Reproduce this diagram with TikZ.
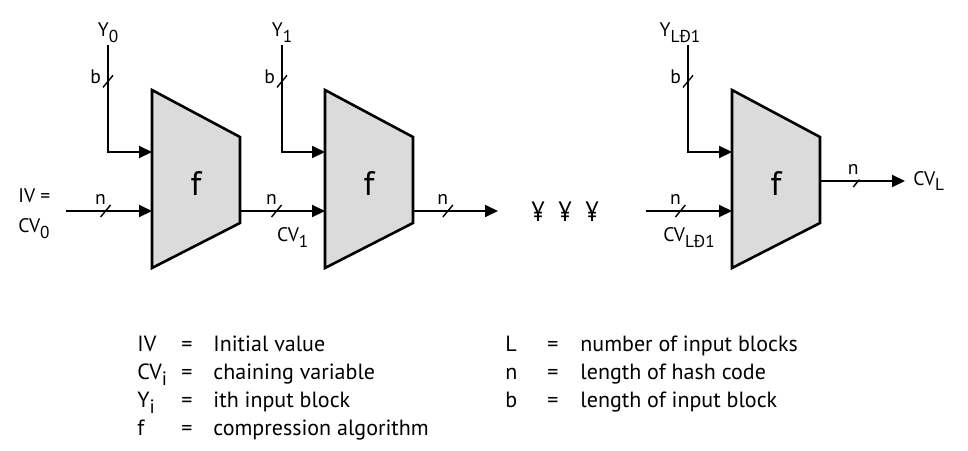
\documentclass[tikz,border=0pt]{standalone}
\usepackage{fontspec}
\usepackage{graphicx}
\setmainfont{PT Sans}
\usetikzlibrary{arrows.meta}
\newcommand{\lsub}[1]{\raisebox{-0.3em}{\scalebox{0.88}{#1}}}
\tikzset{
  fblock/.style={draw, line width=1.3pt, fill=black!14, line join=miter},
  bus/.style={line width=1pt, ->},
  slashmark/.pic={\draw[-, line width=0.7pt] (-5,6) -- (5,-6);},
  lbl/.style={font=\fontsize{9.8}{11}\selectfont, inner sep=1pt},
  nlbl/.style={lbl, above=2pt, xshift=-2.5pt},
  legend/.style={font=\fontsize{11}{13}\selectfont, inner sep=0pt, anchor=base west},
}
\begin{document}
\begin{tikzpicture}[x=0.5pt, y=-0.5pt, >={Triangle[length=6.5pt,width=6pt]}]
 \useasboundingbox (0,0) rectangle (968,450);
 % compression blocks
 \foreach \k/\x/\oy in {1/152/211, 2/325/211, 3/732/181} {
  \draw[fblock] (\x,90) -- (\x+88,137) -- (\x+88,223) -- (\x,268) -- cycle;
  \node[font=\fontsize{17}{20}\selectfont] (f\k) at (\x+44,183) {f};
  \coordinate (b\k) at (\x,152);
  \coordinate (n\k) at (\x,211);
  \coordinate (o\k) at (\x+88,\oy);
 }
 % first block
 \coordinate (y0) at (108,45);
 \coordinate (iv) at (66,211);
 \node[lbl, above] (ylab0) at (y0) {Y\lsub{0}};
 \node[lbl, align=left, anchor=west, font=\fontsize{9.8}{15}\selectfont] (ivlab) at (16,214) {IV =\\CV\lsub{0}};
 \draw[bus] (y0) -- pic[pos=.34]{slashmark} node[lbl, pos=.3, left, xshift=-2pt]{b} (y0 |- b1) -- (b1);
 \draw[bus] (iv) -- pic[pos=.46]{slashmark} node[nlbl, pos=.46]{n} (n1);
 \draw[bus] (o1) -- pic[pos=.43]{slashmark} node[nlbl, pos=.43]{n}
   node[lbl, pos=.62, below=7pt] (cv1) {CV\lsub{1}} (n2);
 % second block
 \coordinate (y1) at (282,45);
 \coordinate (gap) at (498,211);
 \node[lbl, above] (ylab1) at (y1) {Y\lsub{1}};
 \draw[bus] (y1) -- pic[pos=.34]{slashmark} node[lbl, pos=.3, left, xshift=-2pt]{b} (y1 |- b2) -- (b2);
 \draw[bus] (o2) -- pic[pos=.41]{slashmark} node[nlbl, pos=.41]{n} (gap);
 \foreach \x [count=\i] in {538,565,592}
  \node[font=\fontsize{14}{16}\selectfont] (yen\i) at (\x,212) {\scalebox{0.85}[1]{¥}};
 % last block
 \coordinate (yl) at (688,45);
 \coordinate (cvin) at (646,211);
 \node[lbl, above, xshift=-4pt] (ylabl) at (yl) {Y\lsub{LĐ1}};
 \draw[bus] (yl) -- pic[pos=.34]{slashmark} node[lbl, pos=.3, left, xshift=-2pt]{b} (yl |- b3) -- (b3);
 \draw[bus] (cvin) -- pic[pos=.4]{slashmark} node[nlbl, pos=.4]{n}
   node[lbl, pos=.5, below=7pt] (cvl1) {CV\lsub{LĐ1}} (n3);
 \node[lbl, anchor=west] (cvL) at (911,181) {CV\lsub{L}};
 \draw[bus, shorten >=3pt] (o3) -- pic[pos=.42]{slashmark} node[nlbl, pos=.42]{n} (cvL);
 % legend
 \foreach \s/\t [count=\r] in {IV/Initial value, CV\lsub{i}/chaining variable,
   Y\lsub{i}/ith input block, f/compression algorithm} {
  \node[legend] (ls\r) at (137,323+28*\r) {\s};
  \node[legend, anchor=base] (le\r) at (187,323+28*\r) {=};
  \node[legend] (lt\r) at (213,323+28*\r) {\t};
 }
 \foreach \s/\t [count=\r] in {L/number of input blocks, n/length of hash code,
   b/length of input block} {
  \node[legend] (rs\r) at (505,323+28*\r) {\s};
  \node[legend, anchor=base] (re\r) at (553,323+28*\r) {=};
  \node[legend] (rt\r) at (580,323+28*\r) {\t};
 }
\end{tikzpicture}
\end{document}
